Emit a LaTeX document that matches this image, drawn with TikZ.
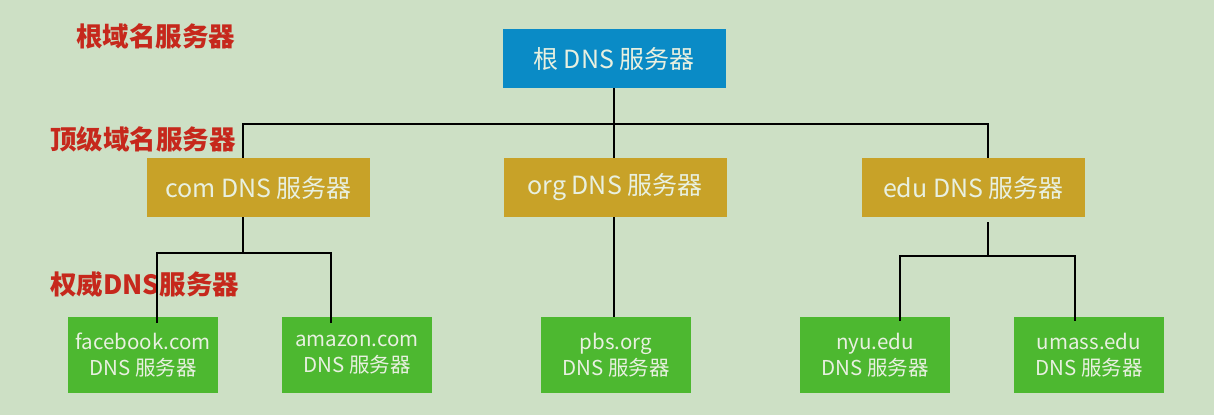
\documentclass[tikz,border=0pt]{standalone}
\usepackage{fontspec}
\setmainfont{Noto Sans CJK SC}
\definecolor{bgc}{RGB}{205,224,197}
\definecolor{rootc}{RGB}{10,139,198}
\definecolor{tldc}{RGB}{200,162,40}
\definecolor{authc}{RGB}{77,184,48}
\definecolor{labc}{RGB}{198,40,28}
\definecolor{txtc}{RGB}{232,240,224}
\tikzset{
  srv/.style={fill=#1, text=txtc, inner sep=0pt, align=center},
  topbox/.style={srv=#1, minimum width=223pt, minimum height=59pt, font=\fontsize{25}{28}\selectfont},
  leafbox/.style={srv=authc, minimum width=150pt, minimum height=76pt, font=\fontsize{20.5}{26}\selectfont},
  lab/.style={text=labc, font=\bfseries\fontsize{26.5}{30}\selectfont, inner sep=0pt, anchor=west},
  wire/.style={line width=2.4pt, black}
}
\begin{document}
\begin{tikzpicture}[x=1pt,y=-1pt]
\fill[bgc] (0,0) rectangle (1214,415);
\useasboundingbox (0,0) rectangle (1214,415);
% labels
\node[lab] (l1) at (76,36) {根域名服务器};
\node[lab] (l2) at (50,139) {顶级域名服务器};
\node[lab] (l3) at (50,284) {权威DNS服务器};
% junction points
\coordinate (j1) at (243,124);
\coordinate (j2) at (988,124);
\coordinate (c1) at (243,253);
\coordinate (c1l) at (157,253);
\coordinate (c1r) at (331,253);
\coordinate (e1) at (988,256);
\coordinate (e1l) at (900,256);
\coordinate (e1r) at (1075,256);
% boxes
\node[topbox=rootc] (root) at (614,58.5) {根 DNS 服务器};
\node[topbox=tldc] (com) at (258.5,187.5) {com DNS 服务器};
\node[topbox=tldc] (org) at (615,187.5) {org DNS 服务器};
\node[topbox=tldc] (edu) at (973.5,187.5) {edu DNS 服务器};
\node[leafbox] (fb) at (143,355) {facebook.com\\DNS 服务器};
\node[leafbox] (am) at (357,355) {amazon.com\\DNS 服务器};
\node[leafbox] (pbs) at (616,355) {pbs.org\\DNS 服务器};
\node[leafbox] (nyu) at (875,355) {nyu.edu\\DNS 服务器};
\node[leafbox] (um) at (1089,355) {umass.edu\\DNS 服务器};
% wires
\draw[wire] (root.south -| 614,0) -- (614,124 |- org.north);
\draw[wire] (j1 |- com.north) -- (j1) -- (j2) -- (j2 |- edu.north);
\draw[wire] (c1 |- com.south) -- (c1);
\draw[wire] ([yshift=-6pt]c1l |- fb.north) -- (c1l) -- (c1r) -- ([yshift=-6pt]c1r |- am.north);
\draw[wire] (614,0 |- org.south) -- (614,0 |- pbs.north);
\draw[wire] ([yshift=-5pt]e1 |- edu.south) -- (e1);
\draw[wire] ([yshift=-4pt]e1l |- nyu.north) -- (e1l) -- (e1r) -- ([yshift=-4pt]e1r |- um.north);
\end{tikzpicture}
\end{document}
